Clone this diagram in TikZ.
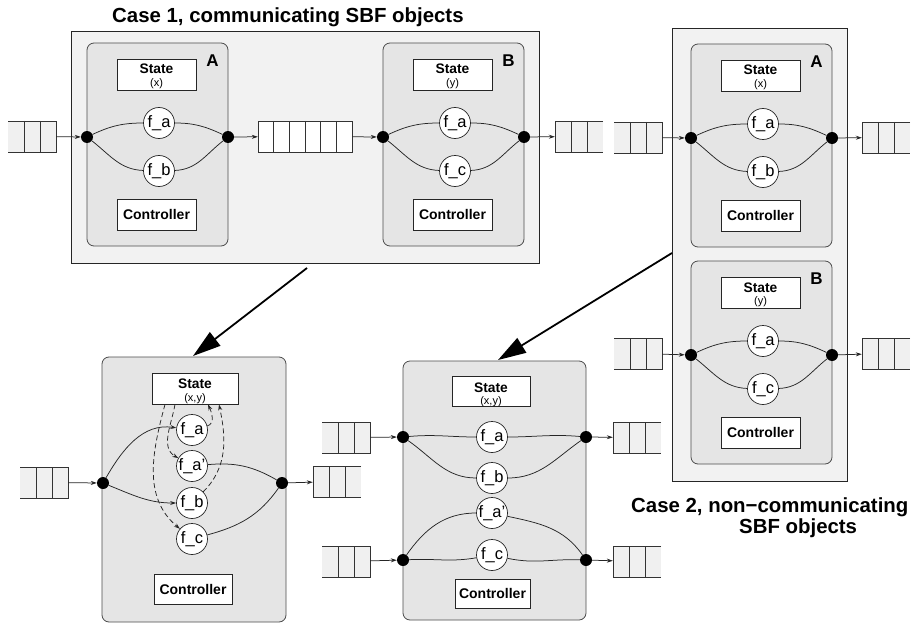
\documentclass[tikz,border=0pt]{standalone}
\usepackage{fontspec}
\setmainfont{Liberation Sans}
\usetikzlibrary{arrows.meta}
\tikzset{
 outerbox/.style={draw=black!85, line width=0.8pt, fill=gray!10},
 innerbox/.style={draw=black!70, line width=0.8pt, fill=gray!20, rounded corners=7pt},
 statebox/.style={draw=black!85, line width=0.8pt, fill=white, minimum width=79pt, minimum height=31pt, inner sep=0pt},
 sttxt/.style={font=\fontsize{13.8}{15}\selectfont\bfseries, inner sep=0pt},
 vartxt/.style={font=\fontsize{11}{12}\selectfont, inner sep=0pt},
 lbltxt/.style={font=\fontsize{17}{19}\selectfont\bfseries, inner sep=0pt},
 fcirc/.style={circle, draw=black!85, line width=0.7pt, fill=white, minimum size=31pt, inner sep=0pt, font=\fontsize{16.5}{18}\selectfont},
 dot/.style={circle, fill=black, minimum size=12pt, inner sep=0pt},
 ctl/.style={draw=black!85, line width=0.8pt, fill=white, minimum width=79pt, minimum height=31pt, inner sep=0pt, font=\fontsize{14}{16}\selectfont\bfseries},
 wire/.style={line width=0.75pt, draw=black!85},
 arr/.style={wire, -{Stealth[length=6pt,width=4pt,inset=2pt]}},
 darr/.style={arr, dash pattern=on 5pt off 3pt},
 bigarr/.style={line width=1.8pt, -{Triangle[length=28pt,width=17pt]}},
 qnode/.style={rectangle, minimum width=48pt, minimum height=31pt, inner sep=0pt},
 qfill/.style={fill=gray!12},
 qline/.style={draw=black!80, line width=0.7pt},
 titletxt/.style={font=\fontsize{20.4}{23}\selectfont\bfseries, inner sep=0pt},
}
\newcommand{\inq}[3]{%
  \node[qnode] (#1) at ([shift={(24,15.5)}]#2,#3) {};
  \fill[qfill] (#2,#3) rectangle ++(48,31);
  \draw[qline] (#2,#3) -- ++(48,0) -- ++(0,31) -- ++(-48,0);
  \draw[qline] (#2,#3) ++(16,0) -- ++(0,31) ++(16,-31) -- ++(0,31);
}
\newcommand{\outq}[3]{%
  \node[qnode] (#1) at ([shift={(24,15.5)}]#2,#3) {};
  \fill[qfill] (#2,#3) rectangle ++(48,31);
  \draw[qline] (#2,#3) ++(48,0) -- ++(-48,0) -- ++(0,31) -- ++(48,0);
  \draw[qline] (#2,#3) ++(16,0) -- ++(0,31) ++(16,-31) -- ++(0,31);
}
\newcommand{\SBFobj}[6]{%
 \begin{scope}[shift={(#2,#3)}]
  \draw[innerbox] (0,0) rectangle (141,203);
  \node[statebox] (#1st) at (69.5,31.5) {};
  \node[sttxt, anchor=base] at (69.5,31) {State};
  \node[vartxt, anchor=base] at (69.5,43.5) {(#4)};
  \node[lbltxt] (#1lbl) at (125.5,18) {#5};
  \node[fcirc] (#1fa) at (72,80) {f\_a};
  \node[fcirc] (#1fb) at (72,128) {#6};
  \node[dot] (#1dl) at (0,94) {};
  \node[dot] (#1dr) at (141,94) {};
  \node[ctl] (#1ctl) at (69.5,171.5) {Controller};
  \draw[wire] (#1dl) to[out=25,in=180] (#1fa);
  \draw[wire] (#1fa) to[out=0,in=155] (#1dr);
  \draw[wire] (#1dl) to[out=-38,in=178] (#1fb);
  \draw[wire] (#1fb) to[out=2,in=-142] (#1dr);
 \end{scope}}
\begin{document}
\begin{tikzpicture}[x=1pt,y=-1pt]
\useasboundingbox (0,0) rectangle (912,623);
\fill[white] (0,0) rectangle (912,623);

% titles
\node[titletxt, anchor=base west] (t1) at (112,22.7) {Case 1, communicating SBF objects};
\node[titletxt, anchor=base west] (t2a) at (631,512) {Case 2, non−communicating};
\node[titletxt, anchor=base west] (t2b) at (739,533) {SBF objects};

% outer boxes
\draw[outerbox] (71,31) rectangle (539,263);
\draw[outerbox] (672,28) rectangle (847,481);

% objects
\SBFobj{cA}{87}{43}{x}{A}{f\_b}
\SBFobj{cB}{383}{43}{y}{B}{f\_c}
\SBFobj{dA}{691}{44}{x}{A}{f\_b}
\SBFobj{dB}{691}{261}{y}{B}{f\_c}

% case 1 queues
\inq{q1in}{8}{121}
\node[qnode, minimum width=94pt] (q1mid) at (305,136.5) {};
\draw[qline, fill=white] (258,121) rectangle (352,152);
\foreach \i in {1,...,5} \draw[qline] ({258+\i*94/6},121) -- ++(0,31);
\outq{q1out}{555}{121}
\draw[arr] (q1in) -- (cAdl);
\draw[arr] (cAdr) -- (q1mid);
\draw[arr] (q1mid) -- (cBdl);
\draw[arr] (cBdr) -- (q1out);

% case 2 queues
\inq{q2ai}{614}{122}
\outq{q2ao}{862}{122}
\inq{q2bi}{614}{338}
\outq{q2bo}{862}{338}
\draw[arr] (q2ai) -- (dAdl);
\draw[arr] (dAdr) -- (q2ao);
\draw[arr] (q2bi) -- (dBdl);
\draw[arr] (dBdr) -- (q2bo);

% merged object 1
\draw[innerbox] (102,357) rectangle (286,622);
\node[statebox, minimum width=86pt] (m1st) at (195,388.5) {};
\node[sttxt, anchor=base] at (195,388) {State};
\node[vartxt, anchor=base] at (195,401.5) {(x,y)};
\node[fcirc] (m1fa) at (192,430) {f\_a};
\node[fcirc] (m1fap) at (192,466) {f\_a'};
\node[fcirc] (m1fb) at (192,503) {f\_b};
\node[fcirc] (m1fc) at (192,539) {f\_c};
\node[dot] (m1dl) at (103,483) {};
\node[dot] (m1dr) at (282,483) {};
\node[ctl, minimum width=78pt, minimum height=30pt] (m1ctl) at (193,589) {Controller};
\draw[arr] (m1dl) to[out=60,in=172] (m1fa);
\draw[arr] (m1dl) to[out=-22,in=180] (m1fb);
\draw[wire] (m1fap) to[out=5,in=150] (m1dr);
\draw[wire] (m1fc) to[out=15,in=-125] (m1dr);
\draw[darr] ([xshift=-30pt]m1st.south) to[out=-105,in=140] (m1fc);
\draw[darr] ([xshift=-20pt]m1st.south) to[out=-100,in=150] (m1fap);
\draw[darr] (m1fa) to[out=15,in=-65] ([xshift=13pt]m1st.south);
\draw[darr] (m1fb) to[out=45,in=-78] ([xshift=24pt]m1st.south);
\inq{qm1i}{20}{467}
\outq{qm1o}{313}{466}
\draw[arr] (qm1i) -- (m1dl);
\draw[arr] (m1dr) -- (qm1o);

% merged object 2
\draw[innerbox] (403,361) rectangle (586,620);
\node[statebox, minimum width=78pt, minimum height=30pt] (m2st) at (491,391) {};
\node[sttxt, anchor=base] at (491,392) {State};
\node[vartxt, anchor=base] at (491,404) {(x,y)};
\node[fcirc] (m2fa) at (492,437) {f\_a};
\node[fcirc] (m2fb) at (492,478) {f\_b};
\node[fcirc] (m2fap) at (492,513) {f\_a'};
\node[fcirc] (m2fc) at (492,555) {f\_c};
\node[dot] (m2tl) at (403,437) {};
\node[dot] (m2tr) at (586,437) {};
\node[dot] (m2bl) at (403,560) {};
\node[dot] (m2br) at (586,560) {};
\node[ctl, minimum width=75pt, minimum height=29pt] (m2ctl) at (492.5,593.5) {Controller};
\draw[wire] (m2tl) to[out=5,in=180] (m2fa);
\draw[wire] (m2fa) to[out=0,in=175] (m2tr);
\draw[wire] (m2tl) to[out=-35,in=180] (m2fb);
\draw[wire] (m2fb) to[out=0,in=-145] (m2tr);
\draw[wire] (m2bl) to[out=55,in=180] (m2fap);
\draw[wire] (m2fap) to[out=-12,in=125] (m2br);
\draw[wire] (m2bl) to[out=3,in=190] (m2fc);
\draw[wire] (m2fc) to[out=-12,in=178] (m2br);
\inq{qm2ai}{322}{422}
\outq{qm2ao}{613}{422}
\inq{qm2bi}{322}{546}
\outq{qm2bo}{613}{546}
\draw[arr] (qm2ai) -- (m2tl);
\draw[arr] (m2tr) -- (qm2ao);
\draw[arr] (qm2bi) -- (m2bl);
\draw[arr] (m2br) -- (qm2bo);

% big arrows
\coordinate (b1s) at (307,268);
\coordinate (b1e) at (193,356);
\coordinate (b2s) at (672,253);
\coordinate (b2e) at (498,360);
\draw[bigarr] (b1s) -- (b1e);
\draw[bigarr] (b2s) -- (b2e);
\end{tikzpicture}
\end{document}
